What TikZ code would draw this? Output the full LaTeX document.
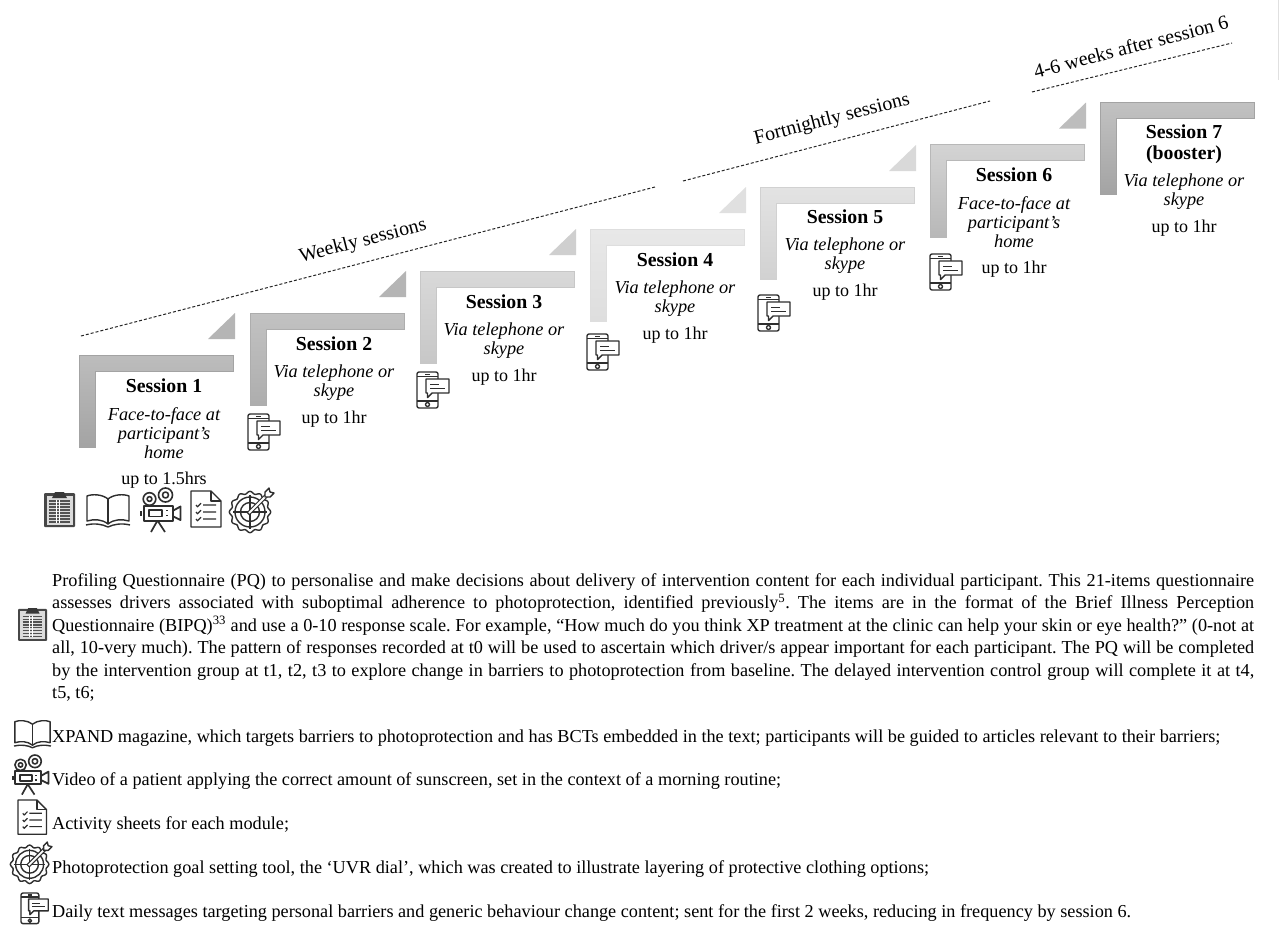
\documentclass[tikz,border=0pt]{standalone}
\usepackage{fontspec}
\setmainfont{Liberation Serif}
\definecolor{iconcol}{HTML}{2E2E2E}
\tikzset{
    iconline/.style={draw=iconcol, line width=1.4pt, line join=round},
    titletext/.style={inner sep=0pt, align=center, font=\fontsize{19.8}{21}\selectfont\bfseries},
    modetext/.style={inner sep=0pt, align=center, font=\fontsize{18.3}{19}\selectfont\itshape},
    timetext/.style={inner sep=0pt, font=\fontsize{18}{20}\selectfont},
    phasetext/.style={inner sep=0pt, rotate=14.5, font=\fontsize{19.9}{21}\selectfont},
    phaseline/.style={densely dashed, line width=1pt, draw=black!85},
    bodytext/.style={inner sep=0pt, anchor=base west, font=\fontsize{18.23}{22.5}\selectfont\frenchspacing},
    pics/phoneicon/.style={code={
        \draw[iconline, rounded corners=2pt, fill=white] (0,0) rectangle (21,36);
        \draw[iconline] (0,4.5) -- (21,4.5) (0,29) -- (21,29) (8,2.3) -- (13,2.3);
        \draw[iconline] (10.5,32.5) circle (2);
        \draw[iconline, fill=white] (9,7) -- (32,7) -- (32,21) -- (15,21) -- (10.5,25.5) -- (10.5,21) -- (9,21) -- cycle;
        \draw[iconline, line width=1pt] (13,12) -- (22,12) (13,16) -- (28,16);
    }},
    pics/clipicon/.style={code={
        \fill[rounded corners=1pt, fill=black!72] (0,1) rectangle (31,35);
        \fill[fill=black!14] (2.5,3.5) rectangle (28.5,32.5);
        \fill[fill=black!78] (11,0) -- (20,0) -- (23,6) -- (8,6) -- cycle;
        \foreach \rowy in {9,12,15,18,21,24,27,30}
            \draw[line width=1.3pt, draw=black!68] (5,\rowy) -- (26,\rowy);
        \draw[line width=1pt, draw=white] (12,8) -- (12,31) (15.5,8) -- (15.5,31);
    }},
    pics/bookicon/.style={code={
        \draw[iconline] (22,5) .. controls (16,0) and (6,0) .. (1,2) -- (1,27) .. controls (8,25) and (16,25) .. (22,30) .. controls (28,25) and (36,25) .. (43,27) -- (43,2) .. controls (38,0) and (28,0) .. (22,5) -- cycle;
        \draw[iconline] (22,5) -- (22,30);
        \draw[iconline] (0,31) .. controls (8,29) and (16,30) .. (22,33) .. controls (28,30) and (36,29) .. (44,31);
    }},
    pics/cameraicon/.style={code={
        \draw[iconline, line width=1.6pt] (9.5,11) circle (6.3) (9.5,11) circle (2.4);
        \draw[iconline, line width=1.6pt] (25.5,7) circle (7) (25.5,7) circle (3);
        \draw[iconline, line width=2pt, fill=white] (3.5,18) rectangle (32.5,32.5);
        \draw[iconline, line width=1.7pt] (9,22) rectangle (22,28.5);
        \draw[iconline, line width=1.5pt] (26,22.5) -- (28,22.5) (26,27.5) -- (28,27.5);
        \draw[iconline, line width=1.8pt] (32.5,23) -- (40.5,18.5) -- (40.5,32) -- (32.5,28);
        \draw[iconline, line width=2pt] (1,23) -- (1,28);
        \draw[iconline, line width=1.7pt] (17.5,32.5) -- (11,44) (17.5,32.5) -- (25,44);
    }},
    pics/sheeticon/.style={code={
        \draw[iconline] (0,0) -- (20,0) -- (30,10) -- (30,36) -- (0,36) -- cycle;
        \draw[iconline] (20,0) -- (20,10) -- (30,10);
        \foreach \ticky in {14,21,28}
            \draw[iconline, line width=1.2pt] (5,\ticky) -- (6.5,\ticky+1.8) -- (10,\ticky-1.8) (12,\ticky) -- (25,\ticky);
    }},
    pics/targeticon/.style={code={
        \draw[iconline] plot[domain=0:360, samples=97, smooth] ({20+(19.5+1.2*cos(12*\x))*cos(\x)},{24+(19.5+1.2*cos(12*\x))*sin(\x)}) -- cycle;
        \draw[iconline] (20,24) circle (15) (20,24) circle (9.5);
        \draw[iconline] (20,7) -- (20,41) (3,24) -- (37,24);
        \draw[line width=4.2pt, draw=iconcol] (18,26) -- (37,7);
        \draw[line width=1.8pt, draw=white] (19,25) -- (37,7);
        \draw[iconline, fill=white] (35,4) -- (39,0) -- (40,4) -- (44,5) -- (40,9) -- (35,9) -- cycle;
    }},
}
\newcommand{\sessionframe}[4]{%
    \shade[top color=black!#3, bottom color=black!#4, draw=black!#4, line width=0.5pt] (#1,#2) -- ++(154.5,0) -- ++(0,16) -- ++(-138.5,0) -- ++(0,76.5) -- ++(-16,0) -- cycle;
}
\newcommand{\sessionwedge}[3]{%
    \fill[fill=black!#3] (#1+156,#2-42) -- (#1+156,#2-16) -- (#1+129,#2-16) -- cycle;
}
\begin{document}
\begin{tikzpicture}[x=1pt, y=-1pt]
    \useasboundingbox (0,0) rectangle (1280,924);
    \fill[white] (0,0) rectangle (1280,924);
    \draw[line width=1pt, draw=black!12] (1278.5,0) -- (1278.5,80);
    % frames and wedges
    \sessionframe{79}{355}{26}{36}
    \sessionframe{250}{313}{24}{32}
    \sessionframe{420}{271}{15}{22}
    \sessionframe{590}{229}{9}{13}
    \sessionframe{760}{187}{11}{18}
    \sessionframe{930}{144.5}{17}{28}
    \sessionframe{1100}{102}{24}{36}
    \sessionwedge{79}{355}{29}
    \sessionwedge{250}{313}{29}
    \sessionwedge{420}{271}{19}
    \sessionwedge{590}{229}{12}
    \sessionwedge{760}{187}{15}
    \sessionwedge{930}{144.5}{26}
    % timeline
    \coordinate (weeklyA) at (81,336);
    \coordinate (weeklyB) at (655,187);
    \coordinate (fortA) at (683,181);
    \coordinate (fortB) at (990,101);
    \coordinate (boostA) at (1032,92);
    \coordinate (boostB) at (1232,43);
    \draw[phaseline] (weeklyA) -- (weeklyB);
    \draw[phaseline] (fortA) -- (fortB);
    \draw[phaseline] (boostA) -- (boostB);
    \node[phasetext] (weeklylabel) at (363,241.5) {Weekly sessions};
    \node[phasetext] (fortlabel) at (832,119.5) {Fortnightly sessions};
    \node[phasetext] (boostlabel) at (1131,46.5) {4-6 weeks after session 6};
    % session 1
    \node[titletext] (title1) at (164,386) {Session 1};
    \node[modetext] (mode1) at (164,433.5) {Face-to-face at\\participant’s\\home};
    \node[timetext] (time1) at (164,480.5) {up to 1.5hrs};
    % session 2
    \node[titletext] (title2) at (334,344) {Session 2};
    \node[modetext] (mode2) at (334,383) {Via telephone or\\skype};
    \node[timetext] (time2) at (334,419) {up to 1hr};
    % session 3
    \node[titletext] (title3) at (504,302) {Session 3};
    \node[modetext] (mode3) at (504,341) {Via telephone or\\skype};
    \node[timetext] (time3) at (504,377) {up to 1hr};
    % session 4
    \node[titletext] (title4) at (675,260) {Session 4};
    \node[modetext] (mode4) at (675,299) {Via telephone or\\skype};
    \node[timetext] (time4) at (675,335) {up to 1hr};
    % session 5
    \node[titletext] (title5) at (845,217) {Session 5};
    \node[modetext] (mode5) at (845,256) {Via telephone or\\skype};
    \node[timetext] (time5) at (845,292) {up to 1hr};
    % session 6
    \node[titletext] (title6) at (1014,175) {Session 6};
    \node[modetext] (mode6) at (1014,222.5) {Face-to-face at\\participant’s\\home};
    \node[timetext] (time6) at (1014,269) {up to 1hr};
    % session 7
    \node[titletext] (title7) at (1184,144) {Session 7\\(booster)};
    \node[modetext] (mode7) at (1184,192) {Via telephone or\\skype};
    \node[timetext] (time7) at (1184,228) {up to 1hr};
    % icons on the steps
    \pic at (44,492) {clipicon};
    \pic at (86,494) {bookicon};
    \pic at (140,488) {cameraicon};
    \pic at (191,491) {sheeticon};
    \pic at (230,488) {targeticon};
    \pic at (248,414) {phoneicon};
    \pic at (417,372) {phoneicon};
    \pic at (587,334) {phoneicon};
    \pic at (758,295) {phoneicon};
    \pic at (930,254) {phoneicon};
    % key
    \pic[scale=0.94] at (18,608) {clipicon};
    \pic[scale=0.84] at (14,720) {bookicon};
    \pic[scale=0.9] at (12,755) {cameraicon};
    \pic[scale=0.95] at (18,800) {sheeticon};
    \pic[scale=0.93] at (11,842) {targeticon};
    \pic[scale=0.85] at (21,893) {phoneicon};
    \node[bodytext, anchor=north west, text width=1202pt, align=justify] (keyclip) at (52,573) {Profiling Questionnaire (PQ) to personalise and make decisions about delivery of intervention content for each individual participant. This 21-items questionnaire\linebreak
    assesses drivers associated with suboptimal adherence to photoprotection, identified previously\textsuperscript{5}. The items are in the format of the Brief Illness Perception\linebreak
    Questionnaire (BIPQ)\textsuperscript{33} and use a 0-10 response scale. For example, “How much do you think XP treatment at the clinic can help your skin or eye health?” (0-not at\linebreak
    all, 10-very much). The pattern of responses recorded at t0 will be used to ascertain which driver/s appear important for each participant. The PQ will be completed\linebreak
    by the intervention group at t1, t2, t3 to explore change in barriers to photoprotection from baseline. The delayed intervention control group will complete it at t4,\linebreak
    t5, t6;};
    \node[bodytext] (keybook) at (52,742.2) {XPAND magazine, which targets barriers to photoprotection and has BCTs embedded in the text; participants will be guided to articles relevant to their barriers;};
    \node[bodytext] (keycamera) at (52,785.2) {Video of a patient applying the correct amount of sunscreen, set in the context of a morning routine;};
    \node[bodytext] (keysheet) at (52,829.2) {Activity sheets for each module;};
    \node[bodytext] (keytarget) at (52,873.2) {Photoprotection goal setting tool, the ‘UVR dial’, which was created to illustrate layering of protective clothing options;};
    \node[bodytext] (keyphone) at (52,917.2) {Daily text messages targeting personal barriers and generic behaviour change content; sent for the first 2 weeks, reducing in frequency by session 6.};
\end{tikzpicture}
\end{document}
